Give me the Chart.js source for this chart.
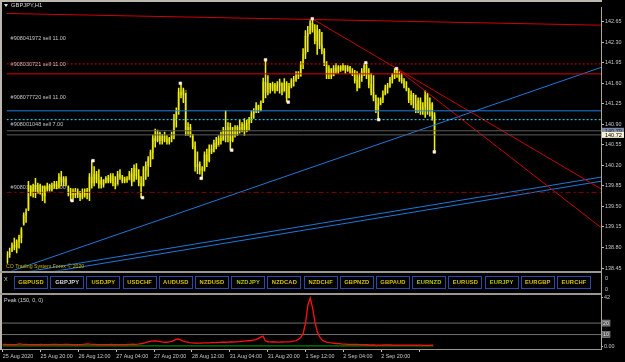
<!DOCTYPE html>
<html>
<head>
<meta charset="utf-8">
<script src="https://cdn.jsdelivr.net/npm/chart.js@4.4.1/dist/chart.umd.min.js"></script>
<style>
  html, body { margin: 0; padding: 0; background: #000; }
  body { width: 625px; height: 362px; position: relative; overflow: hidden; font-family: "Liberation Sans", Arial, sans-serif; }
  .abs { position: absolute; }
  .txt { position: absolute; white-space: nowrap; }
  .btn { position: absolute; top: 276px; width: 34px; height: 13px; box-sizing: border-box; border: 1.5px solid #2a4aa6; background: #000;
         color: #d8c400; font: bold 5.8px/10px "Liberation Sans", Arial, sans-serif; text-align: center; letter-spacing: 0.1px; }
  .btn.sel { color: #d6d6d6; }
  .btn.grn { color: #b4c800; }
</style>
</head>
<body>
<!-- window frame and panel separators -->
<div class="abs" style="left:0;top:0;width:602px;height:2px;background:#bdb9b1"></div>
<div class="abs" style="left:0;top:0;width:2px;height:350px;background:#bdb9b1"></div>
<div class="abs" style="left:0;top:271px;width:602px;height:2px;background:#9c9890"></div>
<div class="abs" style="left:0;top:293px;width:602px;height:2px;background:#9c9890"></div>

<div class="abs" id="mainBox" style="left:2px;top:3px;width:623px;height:272px"><canvas id="main"></canvas></div>
<div class="abs" id="peakBox" style="left:2px;top:295px;width:623px;height:67px"><canvas id="peak"></canvas></div>
<div class="abs" style="left:601px;top:273px;width:1px;height:21px;background:#b0a890"></div>

<!-- header and static labels -->
<div class="abs" style="left:4px;top:4px;width:0;height:0;border-left:2.5px solid transparent;border-right:2.5px solid transparent;border-top:3px solid #e0e0e0"></div>
<div class="txt" style="left:11px;top:2px;font-size:5.8px;line-height:7px;color:#d8d8d8">GBPJPY,H1</div>
<div class="txt" style="left:6px;top:263px;font-size:5.2px;line-height:6px;color:#c8b400">CO Trading System Forex © 2020</div>
<div class="txt" style="left:4px;top:276px;font-size:5.5px;line-height:7px;color:#d0d0d0">X</div>
<div class="txt" style="left:4px;top:297px;font-size:5.5px;line-height:7px;color:#d0d0d0">Peak (150, 0, 0)</div>
<div class="txt" style="left:605px;top:275px;font-size:5.5px;line-height:6px;color:#c8c8c8">0</div>
<div class="txt" style="left:605px;top:286px;font-size:5.5px;line-height:6px;color:#c8c8c8">0</div>
<div id="strip"></div>

<script>
// ---- data ----
const timeTicks  = [0, 16, 32, 48, 64, 80, 96, 112, 128, 144, 160, 176];
const timeLabels = ['25 Aug 2020', '25 Aug 20:00', '26 Aug 12:00', '27 Aug 04:00', '27 Aug 20:00', '28 Aug 12:00',
                    '31 Aug 04:00', '31 Aug 20:00', '1 Sep 12:00', '2 Sep 04:00', '2 Sep 20:00', ''];
const yTicks = [142.65, 142.30, 141.95, 141.60, 141.25, 140.90, 140.55, 140.20, 139.85, 139.50, 139.15, 138.80, 138.45];

// GBPJPY H1 candles, one per hour
const opens = [
  138.55,138.68,138.74,138.84,138.80,138.90,138.97,139.20,139.35,139.45,
  139.85,139.75,139.82,139.72,139.85,139.76,139.68,139.80,139.84,139.79,
  139.86,139.88,139.83,140.00,139.92,139.97,139.84,139.72,139.70,139.76,
  139.70,139.73,139.66,139.74,139.70,139.78,140.00,139.90,140.05,139.95,
  139.88,139.95,139.90,139.98,139.93,140.02,139.90,139.85,140.05,140.00,
  139.93,139.97,139.95,140.06,139.92,140.15,140.02,139.90,139.85,140.12,
  140.20,140.30,140.42,140.66,140.62,140.75,140.62,140.70,140.65,140.60,
  140.66,140.70,141.00,141.12,141.45,141.40,141.48,140.80,140.85,140.72,
  140.52,140.18,140.22,140.12,140.14,140.38,140.28,140.48,140.43,140.58,
  140.52,140.66,140.62,140.80,140.70,140.85,140.62,140.78,140.72,140.85,
  140.80,140.90,140.78,140.92,140.98,141.08,141.12,141.22,141.15,141.28,
  141.62,141.45,141.60,141.50,141.58,141.48,141.56,141.62,141.45,141.60,
  141.35,141.55,141.64,141.66,141.75,141.72,141.92,142.10,142.40,142.45,
  142.62,142.52,142.32,142.50,142.25,142.15,141.95,141.75,141.85,141.72,
  141.86,141.80,141.88,141.83,141.90,141.82,141.87,141.80,141.76,141.65,
  141.52,141.70,141.80,141.90,141.74,141.58,141.45,141.35,141.15,141.25,
  141.32,141.42,141.52,141.56,141.66,141.74,141.80,141.75,141.68,141.64,
  141.55,141.50,141.32,141.40,141.25,141.15,141.30,141.12,141.20,141.40,
  141.15,141.25,141.05];
const highs = [
  138.73,138.79,138.88,138.96,138.93,139.01,139.14,139.39,139.46,139.93,
  139.85,139.88,139.98,139.90,139.88,139.85,139.85,139.90,139.88,139.90,
  139.93,139.93,140.06,140.10,140.01,140.01,139.85,139.81,139.80,139.81,
  139.80,139.76,139.80,139.80,139.81,140.06,140.28,140.18,140.10,140.13,
  140.00,139.96,140.01,140.03,140.06,140.06,140.01,140.10,140.13,140.03,
  140.00,140.01,140.10,140.15,140.21,140.23,140.13,140.01,140.18,140.26,
  140.35,140.46,140.72,140.82,140.80,140.77,140.73,140.77,140.71,140.68,
  140.77,141.07,141.18,141.52,141.60,141.52,141.43,140.93,140.90,140.73,
  140.60,140.43,140.26,140.18,140.43,140.48,140.55,140.55,140.63,140.68,
  140.71,140.77,140.85,141.13,140.93,140.92,140.85,140.88,140.88,140.97,
  140.93,141.00,140.97,141.02,141.13,141.17,141.27,141.23,141.30,141.69,
  142.00,141.73,141.60,141.62,141.60,141.63,141.67,141.60,141.68,141.63,
  141.60,141.68,141.72,141.80,141.80,141.97,142.19,142.50,142.57,142.67,
  142.70,142.60,142.59,142.52,142.47,142.19,141.97,141.90,141.85,141.90,
  141.94,141.90,141.90,141.94,141.90,141.90,141.89,141.85,141.82,141.80,
  141.77,141.85,141.94,141.95,141.85,141.77,141.73,141.40,141.35,141.35,
  141.47,141.57,141.60,141.70,141.77,141.85,141.84,141.80,141.77,141.68,
  141.63,141.52,141.47,141.43,141.40,141.35,141.35,141.27,141.47,141.43,
  141.35,141.27,141.10];
const lows = [
  138.53,138.63,138.73,138.76,138.71,138.79,138.88,139.18,139.23,139.43,
  139.68,139.66,139.65,139.73,139.71,139.60,139.56,139.76,139.76,139.76,
  139.81,139.80,139.81,139.85,139.85,139.85,139.68,139.60,139.63,139.65,
  139.65,139.60,139.63,139.66,139.63,139.60,139.81,139.85,139.90,139.81,
  139.81,139.83,139.90,139.90,139.90,139.85,139.80,139.88,139.96,139.90,
  139.90,139.91,139.96,139.85,139.93,139.96,139.85,139.65,139.85,139.96,
  140.01,140.18,140.31,140.51,140.60,140.56,140.56,140.60,140.56,140.56,
  140.60,140.65,140.85,141.07,141.35,141.27,140.71,140.71,140.68,140.48,
  140.10,140.06,140.05,139.98,140.10,140.18,140.26,140.40,140.43,140.48,
  140.55,140.56,140.63,140.60,140.60,140.46,140.60,140.68,140.71,140.75,
  140.77,140.71,140.77,140.80,140.93,141.00,141.10,141.10,141.13,141.27,
  141.35,141.40,141.43,141.47,141.43,141.47,141.43,141.40,141.47,141.28,
  141.35,141.52,141.55,141.63,141.68,141.72,141.85,142.02,142.14,142.44,
  142.47,142.27,142.09,142.19,142.10,141.90,141.68,141.68,141.68,141.73,
  141.77,141.77,141.80,141.82,141.77,141.80,141.77,141.73,141.60,141.47,
  141.52,141.63,141.73,141.68,141.52,141.40,141.30,141.10,140.98,141.23,
  141.27,141.40,141.43,141.53,141.60,141.68,141.70,141.63,141.60,141.52,
  141.47,141.27,141.23,141.18,141.10,141.10,141.07,141.07,141.02,141.07,
  141.04,140.97,140.43];
const closes = [
  138.68,138.72,138.84,138.80,138.90,138.98,139.10,139.35,139.40,139.85,
  139.75,139.82,139.72,139.85,139.76,139.68,139.80,139.84,139.79,139.86,
  139.88,139.83,140.00,139.92,139.97,139.88,139.72,139.70,139.76,139.70,
  139.75,139.66,139.74,139.70,139.78,140.00,139.90,140.05,139.95,139.88,
  139.95,139.87,139.98,139.93,140.02,139.90,139.85,140.05,140.00,139.93,
  139.97,139.95,140.06,139.92,140.15,140.02,139.90,139.85,140.12,140.20,
  140.30,140.42,140.66,140.62,140.75,140.62,140.70,140.65,140.60,140.66,
  140.72,141.00,141.12,141.45,141.40,141.48,140.80,140.85,140.72,140.52,
  140.18,140.22,140.12,140.14,140.38,140.28,140.48,140.43,140.58,140.52,
  140.66,140.62,140.80,140.70,140.85,140.62,140.78,140.72,140.85,140.80,
  140.90,140.78,140.92,140.98,141.08,141.12,141.22,141.15,141.28,141.62,
  141.45,141.60,141.50,141.58,141.48,141.56,141.62,141.45,141.60,141.35,
  141.55,141.64,141.66,141.75,141.72,141.92,142.10,142.40,142.45,142.62,
  142.52,142.32,142.50,142.25,142.15,141.95,141.75,141.85,141.72,141.86,
  141.80,141.88,141.83,141.90,141.82,141.87,141.80,141.76,141.65,141.52,
  141.70,141.80,141.90,141.74,141.58,141.45,141.35,141.15,141.25,141.32,
  141.42,141.52,141.56,141.66,141.74,141.80,141.75,141.68,141.64,141.55,
  141.50,141.32,141.40,141.25,141.15,141.30,141.12,141.20,141.40,141.15,
  141.25,141.05,140.72];

// swing markers (white squares)
const markerIdx   = [27.6, 36.5, 57.6, 73.7, 82.6, 95.6, 110, 119.7, 129.9, 152.7, 158.2, 165.8, 181.9];
const markerPrice = [139.60, 140.28, 139.65, 141.60, 139.98, 140.46, 142.00, 141.28, 142.70, 141.95, 140.98, 141.85, 140.43];

// horizontal order / level lines
const levelPrices = [141.93, 141.76, 141.13, 140.98, 140.79, 140.72, 139.74];
const orderLabels = ['#908041972 sell 11.00', '#908030721 sell 11.00', '#908077720 sell 11.00', '#908001048 sell 7.00', '#908013358 sell 11.00'];
const orderPrices = [142.37, 141.92, 141.35, 140.90, 139.83];
const askPrice = 140.79;
const bidPrice = 140.72;

// trend lines: start bar, start price, end bar, end price
const trendX0 = [-0.3, 129.9, 165.8, -0.3, -0.3, -0.3];
const trendP0 = [142.79, 142.70, 141.85, 138.37, 138.33, 138.26];
const trendX1 = [252.9, 252.9, 252.9, 252.9, 252.9, 252.9];
const trendP1 = [142.59, 139.80, 139.14, 141.87, 140.00, 139.93];

// Peak (150, 0, 0) indicator
const peakRed = [
  1.5,1.4,1.3,1.3,1.2,1.3,1.5,1.8,1.6,1.5, 1.4,1.3,1.3,1.2,1.2,1.3,1.4,1.3,1.2,1.2,
  1.3,1.4,1.5,1.4,1.3,1.3,1.4,1.5,1.4,1.3, 1.3,1.2,1.2,1.3,1.4,1.6,1.8,1.6,1.5,1.4,
  1.3,1.3,1.2,1.2,1.3,1.3,1.4,1.3,1.3,1.2, 1.2,1.3,1.3,1.4,1.5,1.6,1.5,1.6,1.8,2.2,
  2.8,3.3,3.8,4.2,4.4,4.3,4.0,3.6,3.4,3.3, 3.4,3.8,4.5,5.5,6.1,5.5,4.5,3.8,3.4,3.0,
  2.8,2.6,2.5,2.5,2.6,2.7,2.8,2.8,2.9,3.0, 3.0,3.1,3.2,3.3,3.3,3.4,3.5,3.5,3.6,3.7,
  3.8,4.0,4.2,4.4,4.6,4.8,5.2,5.6,6.5,7.8, 8.7,4.5,3.7,3.6,3.5,3.5,3.4,3.4,3.5,3.6,
  3.6,3.7,3.8,4.2,4.8,5.8,7.5,11.0,20.0,35.8, 41.9,33.0,20.9,12.2,7.9,5.2,4.0,3.4,3.0,2.8,
  2.4,2.2,2.0,1.8,1.7,1.6,1.5,1.5,1.4,1.4, 1.4,1.3,1.3,1.2,1.1,1.0,0.9,0.9,0.8,0.8,
  0.8,0.9,1.0,1.0,0.9,0.8,0.8,0.7,0.7,0.8, 0.8,0.7,0.7,0.7,0.8,0.8,0.7,0.7,0.6,0.6,
  0.6,0.7,0.7];
const peakGreenX = [0, 182];
const peakGreen  = [0.1, 0.1];
const peakLevels = [20, 10];
const peakTicks  = [0, 42];

const pairs = ['GBPUSD','GBPJPY','USDJPY','USDCHF','AUDUSD','NZDUSD','NZDJPY','NZDCAD',
               'NZDCHF','GBPNZD','GBPAUD','EURNZD','EURUSD','EURJPY','EURGBP','EURCHF'];

// ---- setup ----
const FONT = '"Liberation Sans", Arial, sans-serif';
const xMin = -0.3, xMax = 252.9;
const tc = '#c8c8c8';

const strip = document.getElementById('strip');
pairs.forEach((p, k) => {
  const b = document.createElement('div');
  b.className = 'btn' + (p === 'GBPJPY' ? ' sel' : '') + (['NZDJPY', 'EURNZD', 'EURJPY'].includes(p) ? ' grn' : '');
  b.style.left = (14 + k * 36.2) + 'px';
  b.textContent = p;
  strip.appendChild(b);
});

const hline = (p, x0 = xMin, x1 = xMax) => [{ x: x0, y: p }, { x: x1, y: p }];
const levelStyle = [
  { c: '#d40000', d: [2, 2] },
  { c: '#e00000', d: [] },
  { c: '#1f80e6', d: [] },
  { c: '#38d8ff', d: [2, 2] },
  { c: '#5c5c5c', d: [] },
  { c: '#5c5c5c', d: [] },
  { c: '#8c0000', d: [5, 3, 2, 3] },
];
const trendColor = ['#d00000', '#c80000', '#c80000', '#1f78d8', '#1f78d8', '#1f78d8'];

const lineDs = (data, color, dash, w) => ({
  type: 'line', data, borderColor: color, borderWidth: w || 1, borderDash: dash || [],
  pointRadius: 0, tension: 0, order: 1
});

const mainSets = [
  {
    type: 'bar', label: 'body', order: 3, grouped: false, barThickness: 1.6,
    backgroundColor: '#5e5e0e',
    data: opens.map((o, i) => ({ x: i, y: [o, closes[i]] }))
  },
  {
    type: 'bar', label: 'wick', order: 2, grouped: false, barThickness: 0.9,
    backgroundColor: '#f0f000',
    data: highs.map((h, i) => ({ x: i, y: [lows[i], h] }))
  },
  ...levelPrices.map((p, k) => lineDs(hline(p), levelStyle[k].c, levelStyle[k].d)),
  ...trendX0.map((x0, k) => lineDs([{ x: x0, y: trendP0[k] }, { x: trendX1[k], y: trendP1[k] }], trendColor[k])),
  {
    type: 'line', label: 'swings', order: 0, showLine: false,
    data: markerIdx.map((x, k) => ({ x, y: markerPrice[k] })),
    pointStyle: 'rect', pointRadius: 1.9, pointBackgroundColor: '#ffffff', pointBorderColor: '#ffd8d8', pointBorderWidth: 0.6
  }
];

const mainOverlay = {
  id: 'mainOverlay',
  beforeDatasetsDraw(chart) {
    const { ctx, chartArea, scales: { y } } = chart;
    ctx.save();
    ctx.font = '5.5px ' + FONT;
    ctx.fillStyle = '#c4c4c4';
    ctx.textBaseline = 'middle';
    orderLabels.forEach((t, k) => ctx.fillText(t, chartArea.left + 4, y.getPixelForValue(orderPrices[k])));
    ctx.restore();
  },
  afterDraw(chart) {
    const { ctx, chartArea, scales: { y } } = chart;
    ctx.save();
    ctx.font = '5.5px ' + FONT;
    ctx.textBaseline = 'middle';
    const box = (p, fill, ink) => {
      const py = y.getPixelForValue(p);
      ctx.fillStyle = fill;
      ctx.fillRect(chartArea.right + 1, py - 3, 22, 6);
      ctx.fillStyle = ink;
      ctx.fillText(p.toFixed(2), chartArea.right + 4, py + 0.3);
    };
    box(askPrice, '#7d8aa6', '#1c2030');
    box(bidPrice, '#f4efd6', '#000000');
    ctx.restore();
  }
};

new Chart(document.getElementById('main'), {
  type: 'bar',
  data: { datasets: mainSets },
  options: {
    responsive: true, maintainAspectRatio: false, animation: false,
    layout: { padding: { left: 0, right: 0, top: 0, bottom: 4 } },
    plugins: { legend: { display: false }, tooltip: { enabled: false } },
    scales: {
      x: { type: 'linear', min: xMin, max: xMax, offset: false, display: false, grid: { offset: false } },
      y: {
        position: 'right', min: 138.41, max: 142.89, beginAtZero: false,
        afterBuildTicks: s => { s.ticks = yTicks.map(v => ({ value: v })); },
        afterFit: s => { s.width = 24; s.paddingTop = 0; s.paddingBottom = 0; },
        ticks: { color: tc, font: { size: 5.4, family: FONT }, padding: 1, callback: v => v.toFixed(2) },
        grid: { drawOnChartArea: false, tickLength: 3, color: '#bcbcbc' },
        border: { color: '#b0a890' }
      }
    }
  },
  plugins: [mainOverlay]
});

const peakOverlay = {
  id: 'peakOverlay',
  afterDraw(chart) {
    const { ctx, chartArea, scales: { y } } = chart;
    ctx.save();
    ctx.font = '5.3px ' + FONT;
    ctx.textBaseline = 'middle';
    peakLevels.forEach(v => {
      const py = y.getPixelForValue(v);
      ctx.fillStyle = '#5a5a5a';
      ctx.fillRect(chartArea.right + 1, py - 3, 8, 6);
      ctx.strokeStyle = '#9a9a9a';
      ctx.lineWidth = 0.6;
      ctx.strokeRect(chartArea.right + 1, py - 3, 8, 6);
      ctx.fillStyle = '#e4e4e4';
      ctx.fillText(String(v), chartArea.right + 2, py + 0.3);
    });
    ctx.restore();
  }
};

new Chart(document.getElementById('peak'), {
  type: 'line',
  data: {
    datasets: [
      ...peakLevels.map(v => lineDs(hline(v), '#707070', [], 1)),
      { data: peakGreenX.map((x, k) => ({ x, y: peakGreen[k] })), borderColor: '#00a800', borderWidth: 1, pointRadius: 0, order: 2 },
      { data: peakRed.map((v, i) => ({ x: i, y: v })), borderColor: '#ff1010', borderWidth: 1.3, pointRadius: 0, tension: 0, order: 0 }
    ]
  },
  options: {
    responsive: true, maintainAspectRatio: false, animation: false,
    layout: { padding: 0 },
    plugins: { legend: { display: false }, tooltip: { enabled: false } },
    scales: {
      x: {
        type: 'linear', min: xMin, max: xMax, offset: false,
        afterBuildTicks: s => { s.ticks = timeTicks.map(v => ({ value: v })); },
        afterFit: s => { s.height = 13; s.paddingLeft = 0; s.paddingRight = 0; },
        ticks: { color: tc, font: { size: 5.4, family: FONT }, align: 'start', padding: 1, autoSkip: false,
                 maxRotation: 0, minRotation: 0, callback: (v, i) => timeLabels[i] },
        grid: { drawOnChartArea: false, tickLength: 3, color: '#bcbcbc' },
        border: { color: '#9c9890' }
      },
      y: {
        position: 'right', min: -2.6, max: 44.5,
        afterBuildTicks: s => { s.ticks = peakTicks.map(v => ({ value: v })); },
        afterFit: s => { s.width = 24; s.paddingTop = 0; s.paddingBottom = 0; },
        ticks: { color: tc, font: { size: 5.4, family: FONT }, padding: 1, callback: v => (v === 0 ? '0.00' : String(v)) },
        grid: { drawOnChartArea: false, tickLength: 2, color: '#bcbcbc' },
        border: { color: '#b0a890' }
      }
    }
  },
  plugins: [peakOverlay]
});
</script>
</body>
</html>
